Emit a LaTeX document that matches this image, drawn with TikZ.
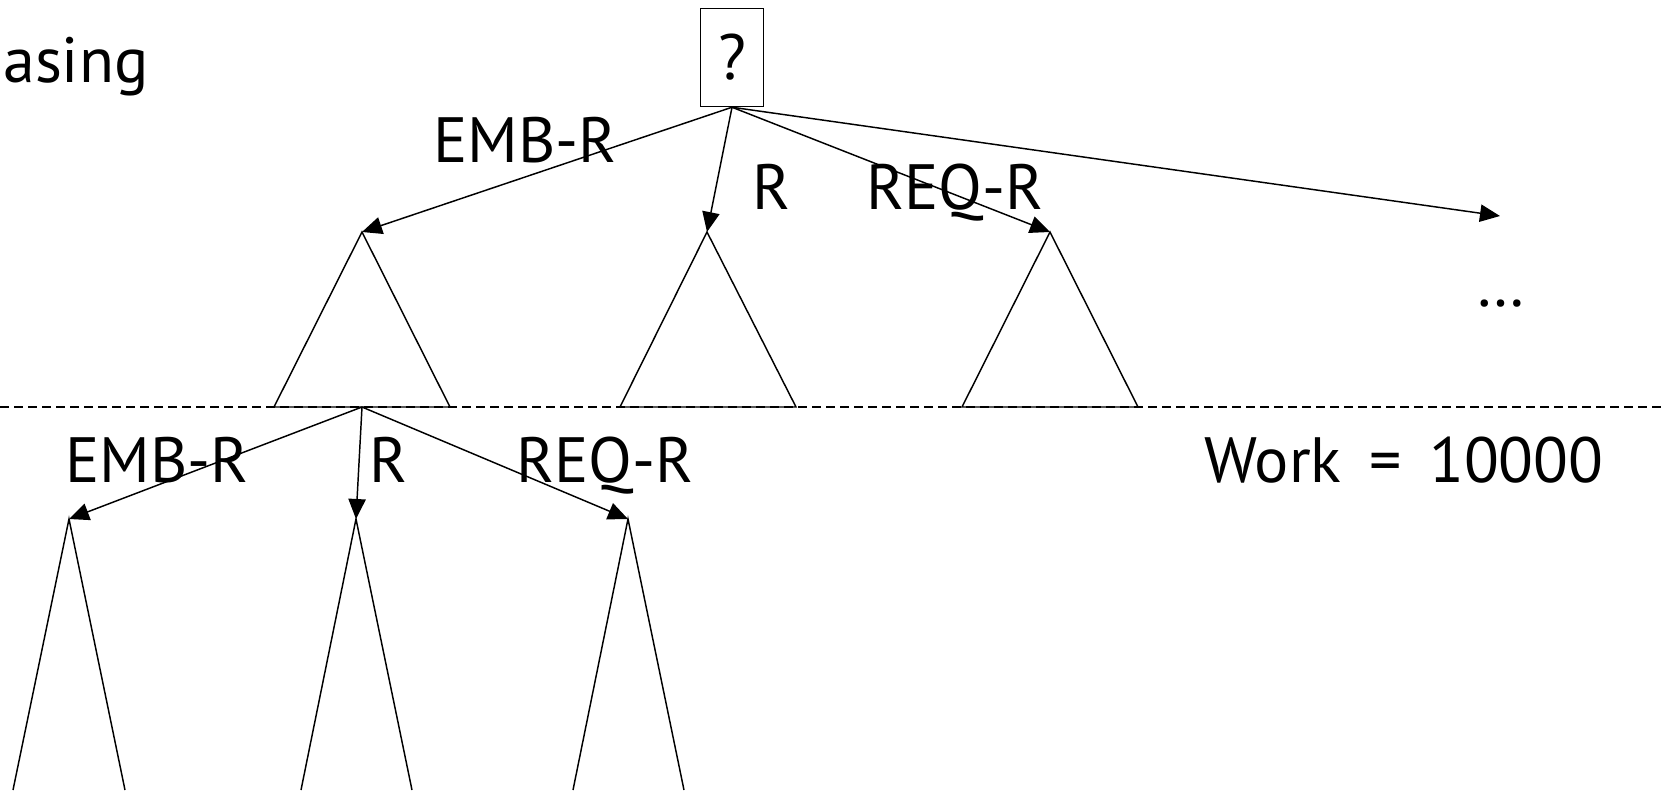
\documentclass[tikz,border=0pt]{standalone}
\usepackage{fontspec}
\setmainfont{PT Sans}
\usetikzlibrary{arrows.meta}
\begin{document}
\begin{tikzpicture}[x=0.75pt,y=-0.75pt,
  lbl/.style={anchor=base, inner sep=0pt, font=\fontsize{48}{58}\selectfont},
  edge/.style={line width=1.1pt, -{Triangle[length=15pt,width=13pt]}},
  tri/.style={line width=1.1pt, line join=miter},
  sep/.style={line width=0.9pt, dash pattern=on 6.75pt off 3.75pt}]
\useasboundingbox (0,0) rectangle (1661,790);
% separator
\draw[sep] (0,407) -- (1661,407);
% root box
\node[draw, line width=1.1pt, minimum width=47.5pt, minimum height=73.5pt, inner sep=0pt,
      font=\fontsize{48}{58}\selectfont] (q) at (732,57.5) {?};
% title fragment
\node[lbl, anchor=base west] (title) at (3,82) {asing};
% upper subtrees
\coordinate (a1) at (362,232);
\coordinate (a2) at (707,232);
\coordinate (a3) at (1050,232);
\coordinate (more) at (1500,216);
\draw[tri] (a1) -- (274,407) -- (450,407) -- cycle;
\draw[tri] (a2) -- (620,407) -- (796,407) -- cycle;
\draw[tri] (a3) -- (962,407) -- (1138,407) -- cycle;
\draw[edge] (q.south) -- (a1);
\draw[edge] (q.south) -- (a2);
\draw[edge] (q.south) -- (a3);
\draw[edge] (q.south) -- (more);
\node[lbl] (l1) at (525,162) {EMB-R};
\node[lbl] (l2) at (772,209) {R};
\node[lbl] (l3) at (955,209) {REQ-R};
\node[lbl] (dots) at (1501,306) {\ldots};
% lower subtrees
\coordinate (m1) at (362,407);
\coordinate (b1) at (69,519);
\coordinate (b2) at (356,519);
\coordinate (b3) at (628,519);
\draw[tri] (13,790) -- (b1) -- (125,790);
\draw[tri] (301,790) -- (b2) -- (412,790);
\draw[tri] (573,790) -- (b3) -- (684,790);
\draw[edge] (m1) -- (b1);
\draw[edge] (m1) -- (b2);
\draw[edge] (m1) -- (b3);
\node[lbl] (k1) at (157,482) {EMB-R};
\node[lbl] (k2) at (389,482) {R};
\node[lbl] (k3) at (605,482) {REQ-R};
\node[lbl] (work) at (1404,482) {Work\hspace{8pt} = \hspace{8pt}10000};
\end{tikzpicture}
\end{document}
